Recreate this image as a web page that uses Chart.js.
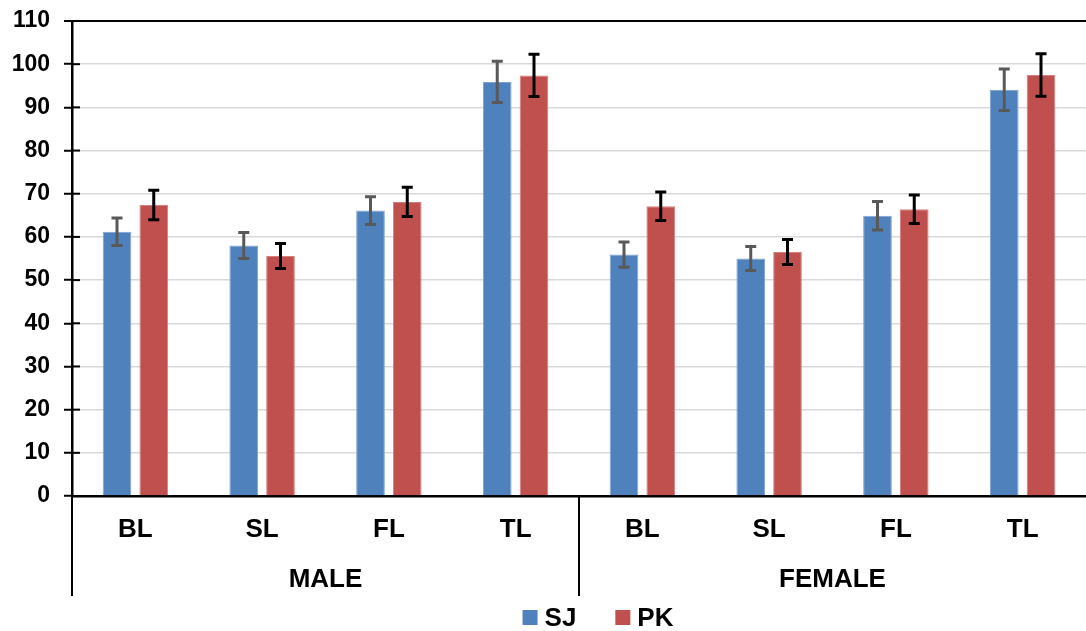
<!DOCTYPE html>
<html>
<head>
<meta charset="utf-8">
<script src="https://cdn.jsdelivr.net/npm/chart.js@4"></script>
<style>
  html, body { margin: 0; padding: 0; background: #fff; }
  #wrap { width: 1086px; height: 631px; }
</style>
</head>
<body>
<div id="wrap"><canvas id="chart" width="1086" height="631"></canvas></div>
<script>
const categories = ['BL', 'SL', 'FL', 'TL', 'BL', 'SL', 'FL', 'TL'];
const groups = ['MALE', 'FEMALE'];
const sjValues = [61.2, 58.0, 66.1, 95.9, 55.9, 55.0, 64.9, 94.1];
const sjErrors = [3.2, 3.0, 3.2, 4.8, 2.9, 2.8, 3.3, 4.8];
const pkValues = [67.4, 55.6, 68.1, 97.4, 67.1, 56.5, 66.4, 97.5];
const pkErrors = [3.4, 2.9, 3.4, 4.9, 3.3, 2.9, 3.3, 4.9];

const fontFamily = '"Liberation Sans", Arial, sans-serif';
const errorColors = ['#595959', '#000000'];
const errorData = [sjErrors, pkErrors];

// error bars, cross ticks on y axis, group labels and separators, legend
const extras = {
    id: 'extras',
    afterDatasetsDraw(chart) {
        const ctx = chart.ctx;
        const y = chart.scales.y;
        ctx.save();
        chart.data.datasets.forEach((ds, di) => {
            const meta = chart.getDatasetMeta(di);
            ctx.strokeStyle = errorColors[di];
            ctx.lineWidth = 3;
            meta.data.forEach((bar, i) => {
                const v = ds.data[i];
                const e = errorData[di][i];
                const top = y.getPixelForValue(v + e);
                const bottom = y.getPixelForValue(v - e);
                ctx.beginPath();
                ctx.moveTo(bar.x, top);
                ctx.lineTo(bar.x, bottom);
                ctx.moveTo(bar.x - 5.5, top);
                ctx.lineTo(bar.x + 5.5, top);
                ctx.moveTo(bar.x - 5.5, bottom);
                ctx.lineTo(bar.x + 5.5, bottom);
                ctx.stroke();
            });
        });
        ctx.restore();
    },
    afterDraw(chart) {
        const ctx = chart.ctx;
        const area = chart.chartArea;
        const x = chart.scales.x;
        const y = chart.scales.y;
        ctx.save();
        // inner half of the crossing ticks
        ctx.strokeStyle = '#000';
        ctx.lineWidth = 2;
        y.ticks.forEach(t => {
            const py = y.getPixelForValue(t.value);
            ctx.beginPath();
            ctx.moveTo(area.left, py);
            ctx.lineTo(area.left + 8, py);
            ctx.stroke();
        });
        // separators below the axis
        const sepBottom = area.bottom + 100;
        const mid = (x.getPixelForValue(3) + x.getPixelForValue(4)) / 2;
        ctx.beginPath();
        ctx.moveTo(area.left, area.bottom);
        ctx.lineTo(area.left, sepBottom);
        ctx.moveTo(mid, area.bottom);
        ctx.lineTo(mid, sepBottom);
        ctx.stroke();
        // group labels
        ctx.fillStyle = '#000';
        ctx.font = 'bold 26px ' + fontFamily;
        ctx.textAlign = 'center';
        ctx.textBaseline = 'middle';
        groups.forEach((g, gi) => {
            const cx = (x.getPixelForValue(gi * 4 + 1) + x.getPixelForValue(gi * 4 + 2)) / 2;
            ctx.fillText(g, cx, area.bottom + 84);
        });
        // legend
        const box = 15, gapText = 7, gapItem = 39;
        ctx.font = 'bold 26px ' + fontFamily;
        const items = chart.data.datasets.map(ds => ({label: ds.label, color: ds.backgroundColor, w: ctx.measureText(ds.label).width}));
        const total = items.reduce((s, it) => s + box + gapText + it.w, 0) + gapItem * (items.length - 1);
        let lx = (area.left + area.right) / 2 + 19 - total / 2;
        const ly = chart.height - 13.5;
        ctx.textAlign = 'left';
        items.forEach(it => {
            ctx.fillStyle = it.color;
            ctx.fillRect(lx, ly - box / 2, box, box);
            ctx.fillStyle = '#000';
            ctx.fillText(it.label, lx + box + gapText, ly + 1);
            lx += box + gapText + it.w + gapItem;
        });
        ctx.restore();
    }
};

new Chart(document.getElementById('chart'), {
    type: 'bar',
    data: {
        labels: categories,
        datasets: [
            {label: 'SJ', data: sjValues, backgroundColor: '#4F81BD', borderColor: '#7EA3D3', borderWidth: 1,
             categoryPercentage: 0.58, barPercentage: 0.78},
            {label: 'PK', data: pkValues, backgroundColor: '#C0504D', borderColor: '#D47F7D', borderWidth: 1,
             categoryPercentage: 0.58, barPercentage: 0.78}
        ]
    },
    options: {
        responsive: false,
        animation: false,
        layout: {padding: {top: 21, right: 0, bottom: 35, left: 0}},
        plugins: {legend: {display: false}, tooltip: {enabled: false}},
        scales: {
            x: {
                grid: {display: false, drawTicks: false},
                border: {color: '#000', width: 2.5},
                ticks: {color: '#000', padding: 18, font: {family: fontFamily, size: 26, weight: 'bold'}},
                afterFit(scale) { scale.height = 100; scale.paddingLeft = 0; scale.paddingRight = 0; }
            },
            y: {
                min: 0,
                max: 110,
                ticks: {stepSize: 10, color: '#000', padding: 14, font: {family: fontFamily, size: 23, weight: 'bold'}},
                grid: {
                    color: c => c.tick && c.tick.value === 110 ? '#000' : '#d9d9d9',
                    lineWidth: c => c.tick && c.tick.value === 110 ? 2 : 1.5,
                    tickColor: '#000',
                    tickWidth: 2,
                    tickLength: 8
                },
                border: {color: '#000', width: 2.5},
                afterFit(scale) { scale.width = 72; scale.paddingTop = 0; scale.paddingBottom = 0; }
            }
        }
    },
    plugins: [extras]
});
</script>
</body>
</html>
